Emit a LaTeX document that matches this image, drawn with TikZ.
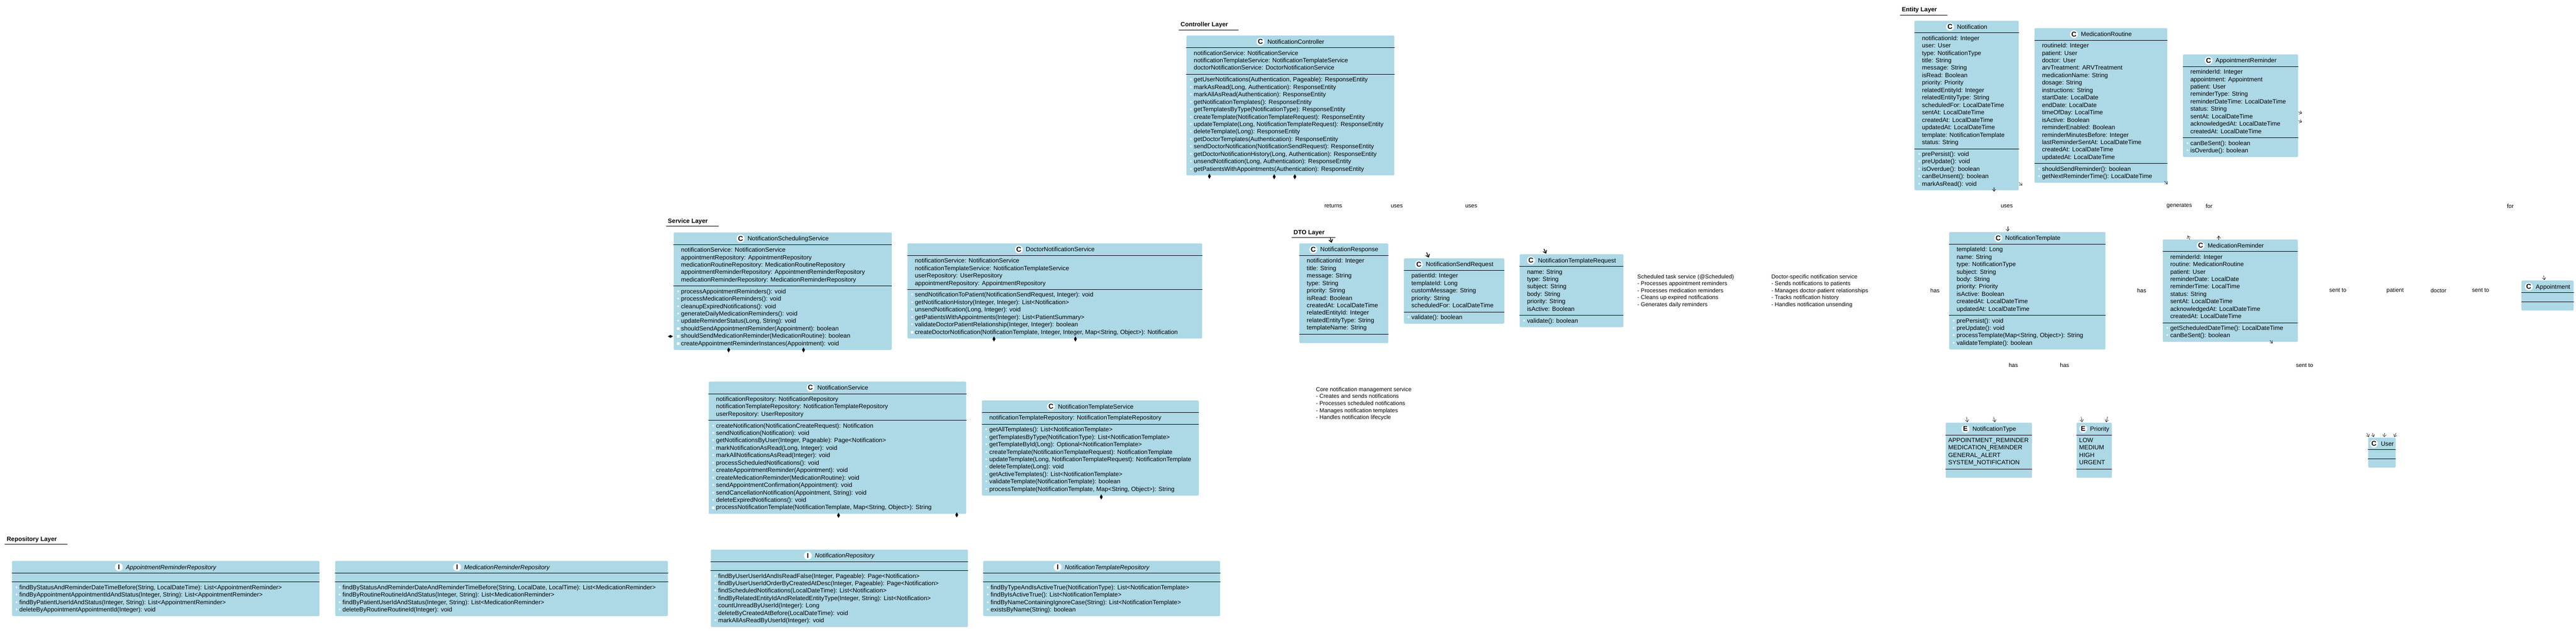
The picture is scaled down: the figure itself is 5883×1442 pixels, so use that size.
\documentclass[tikz,border=0pt]{standalone}
\usepackage{fontspec}
\setmainfont{Liberation Sans}
\usetikzlibrary {arrows.meta,
                 positioning,
                 shapes.geometric,
                 shapes.multipart}
\definecolor{clsblue}{HTML}{ADD8E6}
\newcommand{\clsfont}{\fontsize{7pt}{8.5pt}\selectfont}
\newcommand{\notefont}{\fontsize{6.5pt}{8pt}\selectfont}
\newcommand{\pub}{\llap{\textcolor{white}{\textbullet}\hspace{2pt}}}
\newcommand{\prv}{\llap{\textcolor{white}{\rule[0.6pt]{3pt}{3pt}}\hspace{1.5pt}}}
\newcommand{\hd}[2]{\tikz[baseline=-2.5pt]\node[icon]{#1};\hspace{3.5pt}#2}
\tikzset{
        cls/.style={rectangle split, rectangle split parts=3,
                    rectangle split ignore empty parts=false,
                    rectangle split empty part height=0pt,
                    rectangle split empty part depth=0pt,
                    rectangle split part align={center,left,left},
                    fill=clsblue, rounded corners=1.25pt, align=left,
                    inner xsep=8.5pt, inner ysep=2.25pt,
                    font=\clsfont, anchor=north west},
        enm/.style={cls, inner xsep=3pt},
        icon/.style={circle, fill=white, draw=none, inner sep=0pt, minimum size=9pt,
                     anchor=center, font=\bfseries\fontsize{8pt}{8pt}\selectfont},
        sep/.style={line width=0.5pt, black},
        layer/.style={font=\bfseries\clsfont, inner xsep=0pt, inner ysep=2pt,
                      anchor=base west},
        layerline/.style={line width=0.6pt},
        note/.style={font=\notefont, align=left, anchor=north west, inner sep=0pt},
        lbl/.style={font=\notefont, inner sep=0pt},
        dmd/.style={diamond, fill=black, inner sep=0pt, minimum width=3.5pt,
                    minimum height=6pt},
        tip/.style={-{Straight Barb[length=2.5pt, width=4pt]}, line width=0.35pt},
        tipb/.style={-{Straight Barb[length=3pt, width=4.5pt]}, line width=0.8pt},
 }

\begin{document}
\begin{tikzpicture}[x=0.5pt, y=-0.5pt]
    \useasboundingbox[fill=white] (0,0) rectangle (5883,1442);

    % layer titles
    \node[layer] (ctlLayer) at (2696,61) {Controller Layer};
    \node[layer] (svcLayer) at (1525,510) {Service Layer};
    \node[layer] (dtoLayer) at (2954,536) {DTO Layer};
    \node[layer] (entLayer) at (4343,27) {Entity Layer};
    \node[layer] (repoLayer) at (15,1237) {Repository Layer};
    \foreach \l in {ctlLayer,svcLayer,dtoLayer,entLayer,repoLayer}
        \draw[layerline] ([xshift=-2pt]\l.south west) -- ([xshift=12pt]\l.south east);

    % controller layer
    \node[cls, minimum width=237.5pt] (ctl) at (2709,81) {\hd{C}{NotificationController}%
        \nodepart{two}\strut notificationService: NotificationService\\
        notificationTemplateService: NotificationTemplateService\\
        doctorNotificationService: DoctorNotificationService\strut
        \nodepart{three}\strut\pub getUserNotifications(Authentication, Pageable): ResponseEntity\\
        \pub markAsRead(Long, Authentication): ResponseEntity\\
        \pub markAllAsRead(Authentication): ResponseEntity\\
        \pub getNotificationTemplates(): ResponseEntity\\
        \pub getTemplatesByType(NotificationType): ResponseEntity\\
        \pub createTemplate(NotificationTemplateRequest): ResponseEntity\\
        \pub updateTemplate(Long, NotificationTemplateRequest): ResponseEntity\\
        \pub deleteTemplate(Long): ResponseEntity\\
        \pub getDoctorTemplates(Authentication): ResponseEntity\\
        \pub sendDoctorNotification(NotificationSendRequest): ResponseEntity\\
        \pub getDoctorNotificationHistory(Long, Authentication): ResponseEntity\\
        \pub unsendNotification(Long, Authentication): ResponseEntity\\
        \pub getPatientsWithAppointments(Authentication): ResponseEntity\strut};

    % service layer
    \node[cls, minimum width=249pt] (nss) at (1538,531) {\hd{C}{NotificationSchedulingService}%
        \nodepart{two}\strut notificationService: NotificationService\\
        appointmentRepository: AppointmentRepository\\
        medicationRoutineRepository: MedicationRoutineRepository\\
        appointmentReminderRepository: AppointmentReminderRepository\\
        medicationReminderRepository: MedicationReminderRepository\strut
        \nodepart{three}\strut\pub processAppointmentReminders(): void\\
        \pub processMedicationReminders(): void\\
        \pub cleanupExpiredNotifications(): void\\
        \pub generateDailyMedicationReminders(): void\\
        \pub updateReminderStatus(Long, String): void\\
        \prv shouldSendAppointmentReminder(Appointment): boolean\\
        \prv shouldSendMedicationReminder(MedicationRoutine): boolean\\
        \prv createAppointmentReminderInstances(Appointment): void\strut};
    \node[cls, minimum width=336.5pt] (dns) at (2072,556) {\hd{C}{DoctorNotificationService}%
        \nodepart{two}\strut notificationService: NotificationService\\
        notificationTemplateService: NotificationTemplateService\\
        userRepository: UserRepository\\
        appointmentRepository: AppointmentRepository\strut
        \nodepart{three}\strut\pub sendNotificationToPatient(NotificationSendRequest, Integer): void\\
        \pub getNotificationHistory(Integer, Integer): List<Notification>\\
        \pub unsendNotification(Long, Integer): void\\
        \pub getPatientsWithAppointments(Integer): List<PatientSummary>\\
        \pub validateDoctorPatientRelationship(Integer, Integer): boolean\\
        \prv createDoctorNotification(NotificationTemplate, Integer, Integer, Map<String, Object>): Notification\strut};
    \node[cls, minimum width=294pt] (ns) at (1618,872) {\hd{C}{NotificationService}%
        \nodepart{two}\strut notificationRepository: NotificationRepository\\
        notificationTemplateRepository: NotificationTemplateRepository\\
        userRepository: UserRepository\strut
        \nodepart{three}\strut\pub createNotification(NotificationCreateRequest): Notification\\
        \pub sendNotification(Notification): void\\
        \pub getNotificationsByUser(Integer, Pageable): Page<Notification>\\
        \pub markNotificationAsRead(Long, Integer): void\\
        \pub markAllNotificationsAsRead(Integer): void\\
        \pub processScheduledNotifications(): void\\
        \pub createAppointmentReminder(Appointment): void\\
        \pub createMedicationReminder(MedicationRoutine): void\\
        \pub sendAppointmentConfirmation(Appointment): void\\
        \pub sendCancellationNotification(Appointment, String): void\\
        \pub deleteExpiredNotifications(): void\\
        \prv processNotificationTemplate(NotificationTemplate, Map<String, Object>): String\strut};
    \node[cls, minimum width=246.5pt] (nts) at (2242,915) {\hd{C}{NotificationTemplateService}%
        \nodepart{two}\strut notificationTemplateRepository: NotificationTemplateRepository\strut
        \nodepart{three}\strut\pub getAllTemplates(): List<NotificationTemplate>\\
        \pub getTemplatesByType(NotificationType): List<NotificationTemplate>\\
        \pub getTemplateById(Long): Optional<NotificationTemplate>\\
        \pub createTemplate(NotificationTemplateRequest): NotificationTemplate\\
        \pub updateTemplate(Long, NotificationTemplateRequest): NotificationTemplate\\
        \pub deleteTemplate(Long): void\\
        \pub getActiveTemplates(): List<NotificationTemplate>\\
        \pub validateTemplate(NotificationTemplate): boolean\\
        \pub processTemplate(NotificationTemplate, Map<String, Object>): String\strut};

    % dto layer
    \node[cls, minimum width=101.5pt] (nresp) at (2967,556) {\hd{C}{NotificationResponse}%
        \nodepart{two}\strut notificationId: Integer\\
        title: String\\
        message: String\\
        type: String\\
        priority: String\\
        isRead: Boolean\\
        createdAt: LocalDateTime\\
        relatedEntityId: Integer\\
        relatedEntityType: String\\
        templateName: String\strut
        \nodepart{three}};
    \node[cls, minimum width=114.5pt] (nsr) at (3206,590) {\hd{C}{NotificationSendRequest}%
        \nodepart{two}\strut patientId: Integer\\
        templateId: Long\\
        customMessage: String\\
        priority: String\\
        scheduledFor: LocalDateTime\strut
        \nodepart{three}\strut\pub validate(): boolean\strut};
    \node[cls, minimum width=114pt] (ntreq) at (3470,581) {\hd{C}{NotificationTemplateRequest}%
        \nodepart{two}\strut name: String\\
        type: String\\
        subject: String\\
        body: String\\
        priority: String\\
        isActive: Boolean\strut
        \nodepart{three}\strut\pub validate(): boolean\strut};

    % entity layer
    \node[cls, minimum width=119pt] (notif) at (4372,47) {\hd{C}{Notification}%
        \nodepart{two}\strut notificationId: Integer\\
        user: User\\
        type: NotificationType\\
        title: String\\
        message: String\\
        isRead: Boolean\\
        priority: Priority\\
        relatedEntityId: Integer\\
        relatedEntityType: String\\
        scheduledFor: LocalDateTime\\
        sentAt: LocalDateTime\\
        createdAt: LocalDateTime\\
        updatedAt: LocalDateTime\\
        template: NotificationTemplate\\
        status: String\strut
        \nodepart{three}\strut\pub prePersist(): void\\
        \pub preUpdate(): void\\
        \pub isOverdue(): boolean\\
        \pub canBeUnsent(): boolean\\
        \pub markAsRead(): void\strut};
    \node[cls, minimum width=151.5pt] (mroutine) at (4646,64) {\hd{C}{MedicationRoutine}%
        \nodepart{two}\strut routineId: Integer\\
        patient: User\\
        doctor: User\\
        arvTreatment: ARVTreatment\\
        medicationName: String\\
        dosage: String\\
        instructions: String\\
        startDate: LocalDate\\
        endDate: LocalDate\\
        timeOfDay: LocalTime\\
        isActive: Boolean\\
        reminderEnabled: Boolean\\
        reminderMinutesBefore: Integer\\
        lastReminderSentAt: LocalDateTime\\
        createdAt: LocalDateTime\\
        updatedAt: LocalDateTime\strut
        \nodepart{three}\strut\pub shouldSendReminder(): boolean\\
        \pub getNextReminderTime(): LocalDateTime\strut};
    \node[cls, minimum width=131.5pt] (apptrem) at (4985,124) {\hd{C}{AppointmentReminder}%
        \nodepart{two}\strut reminderId: Integer\\
        appointment: Appointment\\
        patient: User\\
        reminderType: String\\
        reminderDateTime: LocalDateTime\\
        status: String\\
        sentAt: LocalDateTime\\
        acknowledgedAt: LocalDateTime\\
        createdAt: LocalDateTime\strut
        \nodepart{three}\strut\pub canBeSent(): boolean\\
        \pub isOverdue(): boolean\strut};
    \node[cls, minimum width=178.5pt] (ntemplate) at (4451,530) {\hd{C}{NotificationTemplate}%
        \nodepart{two}\strut templateId: Long\\
        name: String\\
        type: NotificationType\\
        subject: String\\
        body: String\\
        priority: Priority\\
        isActive: Boolean\\
        createdAt: LocalDateTime\\
        updatedAt: LocalDateTime\strut
        \nodepart{three}\strut\pub prePersist(): void\\
        \pub preUpdate(): void\\
        \pub processTemplate(Map<String, Object>): String\\
        \pub validateTemplate(): boolean\strut};
    \node[cls, minimum width=154pt] (medrem) at (4939,547) {\hd{C}{MedicationReminder}%
        \nodepart{two}\strut reminderId: Integer\\
        routine: MedicationRoutine\\
        patient: User\\
        reminderDate: LocalDate\\
        reminderTime: LocalTime\\
        status: String\\
        sentAt: LocalDateTime\\
        acknowledgedAt: LocalDateTime\\
        createdAt: LocalDateTime\strut
        \nodepart{three}\strut\pub getScheduledDateTime(): LocalDateTime\\
        \pub canBeSent(): boolean\strut};
    \node[enm, minimum width=98.5pt] (ntype) at (4443,966) {\hd{E}{NotificationType}%
        \nodepart{two}\strut APPOINTMENT\_REMINDER\\
        MEDICATION\_REMINDER\\
        GENERAL\_ALERT\\
        SYSTEM\_NOTIFICATION\strut
        \nodepart{three}};
    \node[enm, minimum width=38pt] (prio) at (4742,966) {\hd{E}{Priority}%
        \nodepart{two}\strut LOW\\
        MEDIUM\\
        HIGH\\
        URGENT\strut
        \nodepart{three}};
    \node[enm, inner xsep=2pt, minimum width=30.5pt] (usr) at (5408,1000)
        {\hd{C}{User}\nodepart{two}\nodepart{three}};
    \node[enm, inner xsep=2pt, minimum width=59.5pt] (appt) at (5758,641)
        {\hd{C}{Appointment}\nodepart{two}\nodepart{three}};

    % repository layer
    \node[cls, minimum width=351pt] (arrepo) at (27,1282) {\hd{I}{\textit{AppointmentReminderRepository}}%
        \nodepart{two}
        \nodepart{three}\strut\pub findByStatusAndReminderDateTimeBefore(String, LocalDateTime): List<AppointmentReminder>\\
        \pub findByAppointmentAppointmentIdAndStatus(Integer, String): List<AppointmentReminder>\\
        \pub findByPatientUserIdAndStatus(Integer, String): List<AppointmentReminder>\\
        \pub deleteByAppointmentAppointmentId(Integer): void\strut};
    \node[cls, minimum width=380pt] (mrrepo) at (765,1282) {\hd{I}{\textit{MedicationReminderRepository}}%
        \nodepart{two}
        \nodepart{three}\strut\pub findByStatusAndReminderDateAndReminderTimeBefore(String, LocalDate, LocalTime): List<MedicationReminder>\\
        \pub findByRoutineRoutineIdAndStatus(Integer, String): List<MedicationReminder>\\
        \pub findByPatientUserIdAndStatus(Integer, String): List<MedicationReminder>\\
        \pub deleteByRoutineRoutineId(Integer): void\strut};
    \node[cls, minimum width=293.5pt] (nrepo) at (1623,1256) {\hd{I}{\textit{NotificationRepository}}%
        \nodepart{two}
        \nodepart{three}\strut\pub findByUserUserIdAndIsReadFalse(Integer, Pageable): Page<Notification>\\
        \pub findByUserUserIdOrderByCreatedAtDesc(Integer, Pageable): Page<Notification>\\
        \pub findScheduledNotifications(LocalDateTime): List<Notification>\\
        \pub findByRelatedEntityIdAndRelatedEntityType(Integer, String): List<Notification>\\
        \pub countUnreadByUserId(Integer): Long\\
        \pub deleteByCreatedAtBefore(LocalDateTime): void\\
        \pub markAllAsReadByUserId(Integer): void\strut};
    \node[cls, minimum width=270.5pt] (ntrepo) at (2245,1282) {\hd{I}{\textit{NotificationTemplateRepository}}%
        \nodepart{two}
        \nodepart{three}\strut\pub findByTypeAndIsActiveTrue(NotificationType): List<NotificationTemplate>\\
        \pub findByIsActiveTrue(): List<NotificationTemplate>\\
        \pub findByNameContainingIgnoreCase(String): List<NotificationTemplate>\\
        \pub existsByName(String): boolean\strut};

    % compartment lines
    \foreach \c in {ctl,nss,dns,ns,nts,nresp,nsr,ntreq,notif,mroutine,apptrem,ntemplate,
                    medrem,ntype,prio,usr,appt,arrepo,mrrepo,nrepo,ntrepo}
        \draw[sep] (\c.text split west) -- (\c.text split east)
                   (\c.two split west) -- (\c.two split east);

    % notes
    \node[note] (noteCore) at (3005,883) {\strut Core notification management service\\
        - Creates and sends notifications\\
        - Processes scheduled notifications\\
        - Manages notification templates\\
        - Handles notification lifecycle};
    \node[note] (noteSched) at (3739,625) {\strut Scheduled task service (@Scheduled)\\
        - Processes appointment reminders\\
        - Processes medication reminders\\
        - Cleans up expired notifications\\
        - Generates daily reminders};
    \node[note] (noteDoctor) at (4045,625) {\strut Doctor-specific notification service\\
        - Sends notifications to patients\\
        - Manages doctor-patient relationships\\
        - Tracks notification history\\
        - Handles notification unsending};

    % connector labels
    \node[lbl] (lReturns) at (3045,471) {returns};
    \node[lbl] (lUses1) at (3190,471) {uses};
    \node[lbl] (lUses2) at (3360,471) {uses};
    \node[lbl] (lUses3) at (4583,471) {uses};
    \node[lbl] (lGenerates) at (4977,471) {generates};
    \node[lbl] (lFor1) at (5045,471) {for};
    \node[lbl] (lFor2) at (5733,471) {for};
    \node[lbl] (lHas1) at (4419,664) {has};
    \node[lbl] (lHas2) at (4891,664) {has};
    \node[lbl] (lSent1) at (5339,664) {sent to};
    \node[lbl] (lPatient) at (5470,664) {patient};
    \node[lbl] (lDoctor) at (5569,664) {doctor};
    \node[lbl] (lSent2) at (5665,664) {sent to};
    \node[lbl] (lHas3) at (4598,835) {has};
    \node[lbl] (lHas4) at (4715,835) {has};
    \node[lbl] (lSent3) at (5263,835) {sent to};

    % connector ends
    \foreach \x/\y [count=\i] in {2762/403, 2910/404, 2957/404, 1664/800, 1835/800,
                                  2270/775, 2456/775, 1915/1178, 2185/1177, 2515/1136}
        \node[dmd] (dm\i) at (\x,\y) {};
    \node[dmd, rotate=90] (dmL) at (1531,769) {};
    \foreach \x/\y/\u/\v in {3041/555/3038/543, 3263/589/3258/577, 3531/580/3526/569}
        \draw[tipb] (\u,\v) -- (\x,\y);
    \foreach \x/\y/\u/\v in {4585/529/4585/518, 4493/965/4491/953, 4556/965/4553/953,
                             4755/965/4753/953, 4810/965/4813/953, 4996/539/5001/548,
                             5067/539/5067/548, 5257/259/5249/256, 5257/279/5249/276,
                             4618/424/4611/417, 4554/438/4554/428, 4950/421/4943/414,
                             5190/785/5184/778, 5811/640/5809/630, 5410/999/5405/990,
                             5421/999/5418/990, 5445/999/5446/990, 5468/999/5472/990}
        \draw[tip] (\u,\v) -- (\x,\y);
\end{tikzpicture}
\end{document}
